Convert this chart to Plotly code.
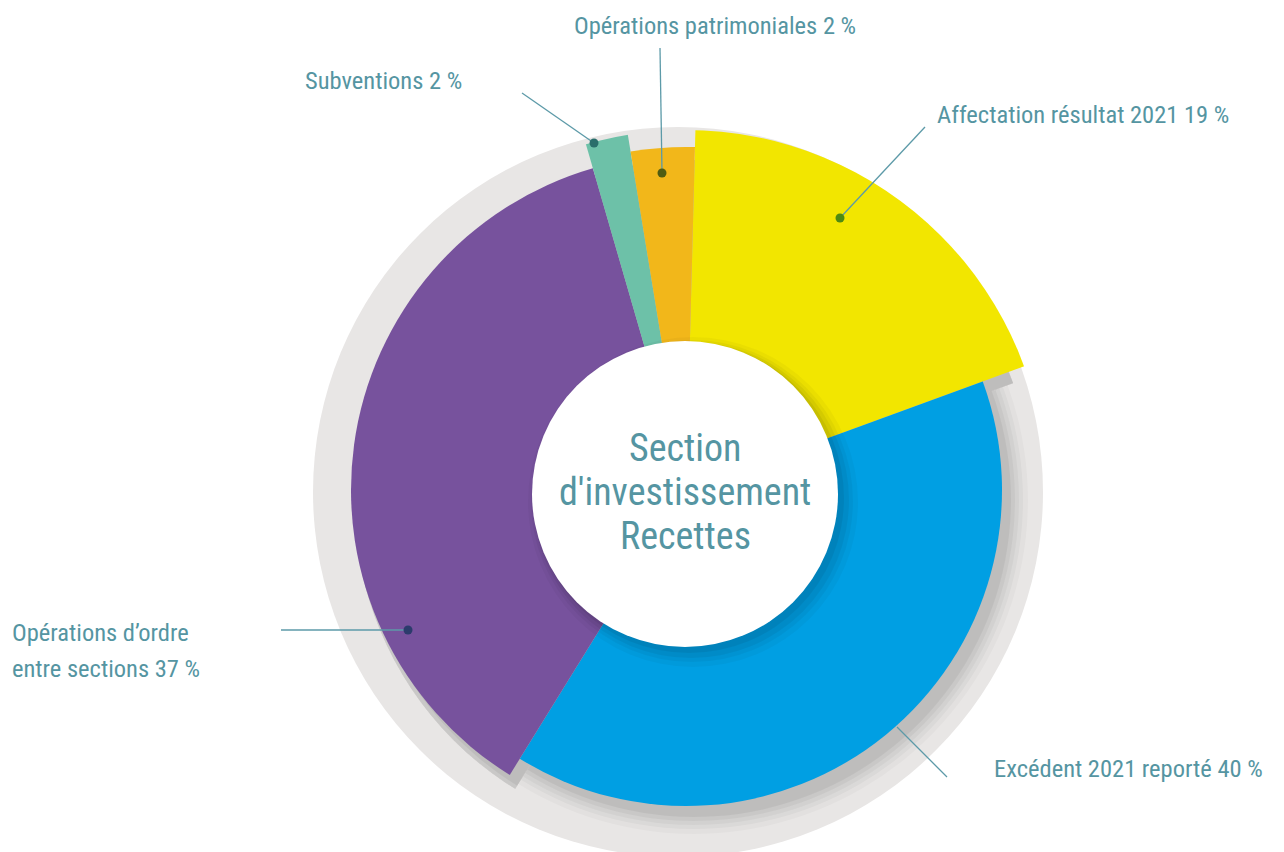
import plotly.graph_objects as go

# ---------------- data ----------------
categories = ["Affectation résultat 2021", "Excédent 2021 reporté",
              "Opérations d’ordre entre sections", "Subventions",
              "Opérations patrimoniales"]
shares = [19.0, 39.4, 36.7, 1.9, 3.0]          # slice sizes
printed_pct = [19, 40, 37, 2, 2]               # percentages printed in the labels
center_title = ["Section", "d'investissement", "Recettes"]

# ---------------- style ----------------
W, H = 1284, 852
CX, CY, RPX = 686, 490, 360          # pie centre (px) and radial range in px
SHX, SHY, SRPX = 8, 10, 340          # shadow offset and its radial range
colors = ["#F2E600", "#009FE3", "#77529D", "#6DC1A8", "#F2B71A"]
outer_r = [377, 316, 335, 372, 343]
text_col = "#5595A2"
line_col = "#5C9AA8"
FONT = "Liberation Sans Narrow, Roboto Condensed, DejaVu Sans Condensed, Liberation Sans, Arial"
LBL_SIZE = 24.5
start_angle = 1.5

# angular geometry from the data
widths = [s * 3.6 for s in shares]
mids, acc = [], start_angle
for w in widths:
    mids.append(acc + w / 2)
    acc += w

fig = go.Figure()

# pixel-space cartesian overlay (for decorations/labels)
fig.update_layout(
    xaxis=dict(range=[0, W], domain=[0, 1], visible=False, fixedrange=True),
    yaxis=dict(range=[H, 0], domain=[0, 1], visible=False, fixedrange=True),
)
fig.add_trace(go.Scatter(x=[0], y=[0], mode="markers", marker=dict(opacity=0),
                         showlegend=False, hoverinfo="skip"))

# ---- soft shadow layers (polar) ----
for grow, alpha in [(18, 0.025), (13, 0.03), (9, 0.035), (5, 0.04), (1, 0.05)]:
    fig.add_trace(go.Barpolar(
        r=[r + grow for r in outer_r], theta=mids, width=widths,
        marker=dict(color=f"rgba(0,0,0,{alpha})", line=dict(width=0)),
        subplot="polar", showlegend=False, hoverinfo="skip"))
fig.add_trace(go.Scatterpolar(r=[0], theta=[0], mode="markers", marker=dict(opacity=0),
                              cliponaxis=False, subplot="polar", showlegend=False,
                              hoverinfo="skip"))

# ---- slices ----
fig.add_trace(go.Barpolar(
    r=outer_r, theta=mids, width=widths,
    marker=dict(color=colors, line=dict(width=0)),
    text=categories, subplot="polar2", showlegend=False,
    hovertemplate="%{text}<extra></extra>"))
fig.add_trace(go.Scatterpolar(r=[0], theta=[0], mode="markers", marker=dict(opacity=0),
                              cliponaxis=False, subplot="polar2", showlegend=False,
                              hoverinfo="skip"))


def polar_domain(cx, cy, rpx):
    return dict(x=[(cx - rpx) / W, (cx + rpx) / W],
                y=[1 - (cy + rpx) / H, 1 - (cy - rpx) / H])


def polar_cfg(rpx, cx, cy):
    return dict(
        domain=polar_domain(cx, cy, rpx),
        bgcolor="rgba(0,0,0,0)", barmode="overlay",
        radialaxis=dict(range=[0, rpx], visible=False),
        angularaxis=dict(visible=False, rotation=90, direction="clockwise"),
    )


fig.update_layout(
    polar=polar_cfg(SRPX, CX + SHX, CY + SHY),
    polar2=polar_cfg(RPX, CX, CY),
)

shapes = []
# grey background disc
shapes.append(dict(type="circle", xref="x", yref="y", x0=313, x1=1043, y0=127, y1=857,
                   fillcolor="#E8E6E5", line=dict(width=0), layer="below"))
# white centre disc with soft shadow
WCX, WCY, WR = 685, 494, 153
for grow, alpha, off in [(12, 0.03, 8), (8, 0.04, 7), (5, 0.05, 6), (2, 0.06, 4)]:
    shapes.append(dict(type="circle", xref="x", yref="y",
                       x0=WCX + off - WR - grow, x1=WCX + off + WR + grow,
                       y0=WCY + off - WR - grow, y1=WCY + off + WR + grow,
                       fillcolor=f"rgba(0,0,0,{alpha})", line=dict(width=0), layer="above"))
shapes.append(dict(type="circle", xref="x", yref="y",
                   x0=WCX - WR, x1=WCX + WR, y0=WCY - WR, y1=WCY + WR,
                   fillcolor="white", line=dict(width=0), layer="above"))

# leader lines + dots (label decorations)
leaders = [
    # (x_start, y_start, x_dot, y_dot, dot colour or None)
    (925, 127, 840, 218, "#4E8A12"),
    (947, 777, 897, 727, None),
    (281, 630, 408, 630, "#2C3B6C"),
    (522, 93, 594, 143, "#2A6E6B"),
    (660, 48, 662, 173, "#4F5C12"),
]
for x0, y0, x1, y1, dc in leaders:
    shapes.append(dict(type="line", xref="x", yref="y", x0=x0, y0=y0, x1=x1, y1=y1,
                       line=dict(color=line_col, width=1.3), layer="above"))
    if dc:
        shapes.append(dict(type="circle", xref="x", yref="y",
                           x0=x1 - 4.5, x1=x1 + 4.5, y0=y1 - 4.5, y1=y1 + 4.5,
                           fillcolor=dc, line=dict(width=0), layer="above"))
fig.update_layout(shapes=shapes)

# labels
label_pos = [(935, 114), (992, 768), (10, 632), (303, 80), (572, 25)]
annotations = []
for i, (cat, p) in enumerate(zip(categories, printed_pct)):
    x, y = label_pos[i]
    if i == 2:
        lines = ["Opérations d’ordre", f"entre sections {p} %"]
    else:
        lines = [f"{cat} {p} %"]
    for j, t in enumerate(lines):
        annotations.append(dict(x=x, y=y + j * 36, xref="x", yref="y", text=t,
                                showarrow=False, xanchor="left", yanchor="middle",
                                font=dict(family=FONT, size=LBL_SIZE, color=text_col)))
for j, t in enumerate(center_title):
    annotations.append(dict(x=WCX, y=448 + j * 44, xref="x", yref="y", text=t,
                            showarrow=False, xanchor="center", yanchor="middle",
                            font=dict(family=FONT, size=38, color=text_col)))
fig.update_layout(annotations=annotations)

fig.update_layout(width=W, height=H, margin=dict(l=0, r=0, t=0, b=0),
                  paper_bgcolor="white", plot_bgcolor="rgba(0,0,0,0)",
                  showlegend=False, hovermode="closest")

fig.write_html(
    "out.html",
    config={"displayModeBar": False},
    post_script="document.body.style.margin='0';document.documentElement.style.overflow='hidden';",
)
